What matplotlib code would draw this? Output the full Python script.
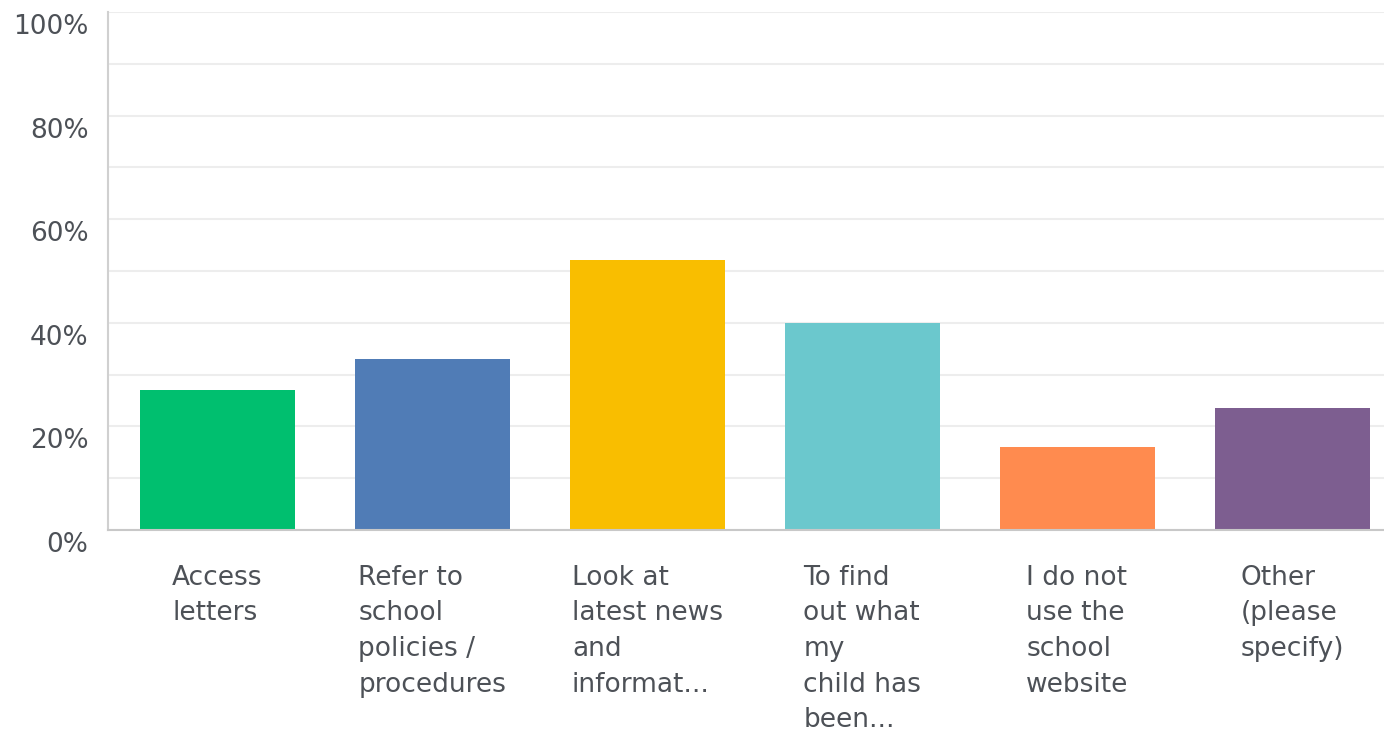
import numpy as np
import matplotlib.pyplot as plt
from matplotlib.transforms import ScaledTranslation
from matplotlib.ticker import MultipleLocator

plt.rcParams['font.family'] = ['DejaVu Sans']

labels = ["Access\nletters",
          "Refer to\nschool\npolicies /\nprocedures",
          "Look at\nlatest news\nand\ninformat...",
          "To find\nout what\nmy\nchild has\nbeen...",
          "I do not\nuse the\nschool\nwebsite",
          "Other\n(please\nspecify)"]
values = [27.0, 33.0, 52.1, 40.0, 16.0, 23.6]
colors = ["#00BF6F", "#507CB6", "#F9BE00", "#6BC8CD", "#FF8B4F", "#7D5E90"]
yticks = [0, 20, 40, 60, 80, 100]

txt = '#4d5157'

fig = plt.figure(figsize=(13.84, 7.36), dpi=100)
ax = fig.add_axes([108/1384, 206/736, 1276/1384, 518/736])

x = np.arange(len(values))
ax.bar(x, values, width=155/215, color=colors, zorder=3)

ax.set_xlim(-0.509, 5.426)
ax.set_ylim(0, 100)

ax.set_yticks(yticks)
ax.set_yticklabels([f"{v}%" for v in yticks])
ax.yaxis.set_minor_locator(MultipleLocator(10))
ax.grid(axis='y', which='both', color='#ededed', linewidth=1.5, zorder=0)
ax.tick_params(axis='y', which='both', length=0, pad=14, labelsize=19, labelcolor=txt)

ax.set_xticks(x)
ax.set_xticklabels(labels, fontsize=19, color=txt, linespacing=1.48,
                   va='top', ha='center', multialignment='left')
ax.tick_params(axis='x', length=0, pad=25)

for s in ['top', 'right']:
    ax.spines[s].set_visible(False)
ax.spines['left'].set_color('#d0d0d0')
ax.spines['left'].set_linewidth(1.5)
ax.spines['bottom'].set_color('#c8c8c8')
ax.spines['bottom'].set_linewidth(1.5)
ax.spines['bottom'].set_zorder(4)

shift = ScaledTranslation(0, -12/100, fig.dpi_scale_trans)
for lab in ax.get_yticklabels():
    lab.set_transform(lab.get_transform() + shift)

fig.savefig("out.png", dpi=100)
